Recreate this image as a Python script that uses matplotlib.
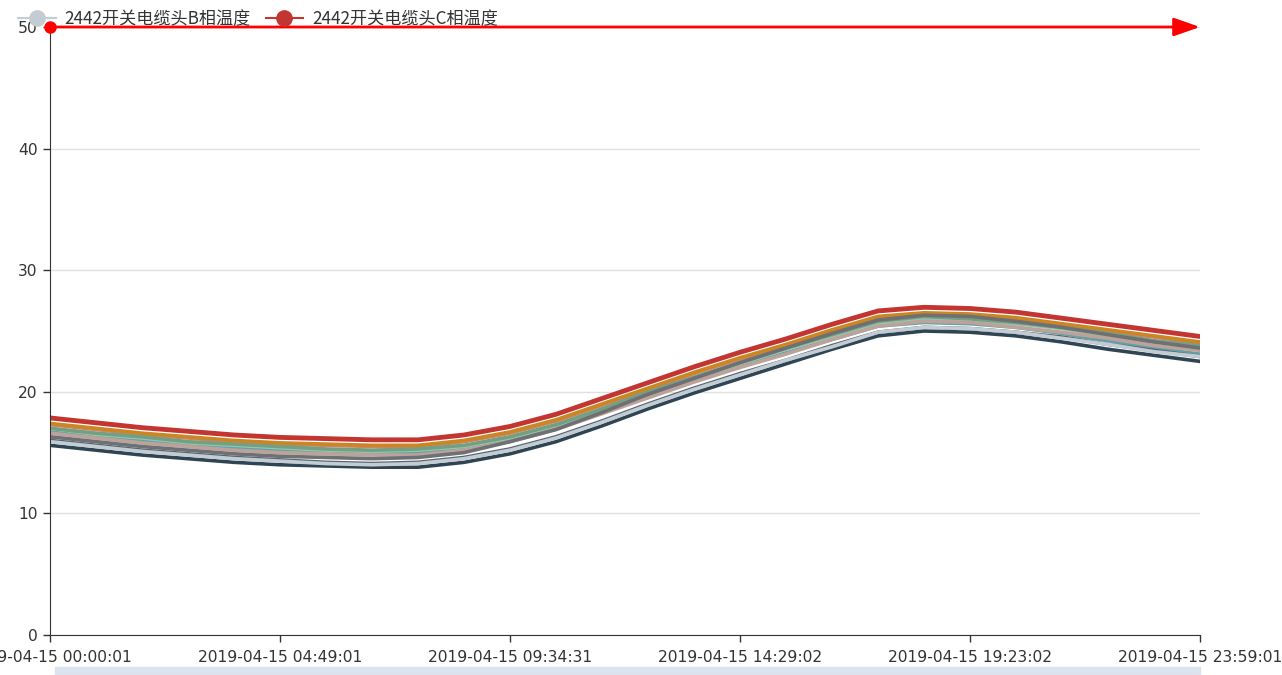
import numpy as np
import matplotlib
matplotlib.use('Agg')
import matplotlib.pyplot as plt
from matplotlib.lines import Line2D
from matplotlib.patches import Rectangle, FancyArrowPatch

plt.rcParams['font.family'] = ['Noto Sans CJK SC', 'DejaVu Sans']

# x 轴类目标签（只显示这几个）
tick_labels = ['2019-04-15 00:00:01', '2019-04-15 04:49:01', '2019-04-15 09:34:31',
               '2019-04-15 14:29:02', '2019-04-15 19:23:02', '2019-04-15 23:59:01']

names = ['2442开关电缆头A相温度', '2442开关柜触头A相温度', '2442开关柜触头B相温度',
         '2442开关柜触头C相温度', '2442母线A相温度', '2442母线B相温度',
         '2442母线C相温度', '2442出线A相温度', '2442出线B相温度',
         '2442出线C相温度', '2442开关电缆头B相温度', '2442开关电缆头C相温度']

colors = ['#c23531', '#2f4554', '#61a0a8', '#d48265', '#91c7ae', '#749f83',
          '#ca8622', '#bda29a', '#6e7074', '#546570', '#c4ccd3', '#c23531']

# 每条曲线的温度值（从图上读取，26 个采样点）
s0 = [17.8, 17.4, 17.0, 16.7, 16.4, 16.2, 16.1, 16.0, 16.0, 16.4, 17.1, 18.1, 19.4,
      20.7, 22.0, 23.2, 24.3, 25.5, 26.6, 26.9, 26.8, 26.5, 26.0, 25.5, 25.0, 24.5]
s1 = [15.6, 15.2, 14.8, 14.5, 14.2, 14.0, 13.9, 13.8, 13.8, 14.2, 14.9, 15.9, 17.2,
      18.6, 19.9, 21.1, 22.3, 23.5, 24.6, 25.0, 24.9, 24.6, 24.1, 23.5, 23.0, 22.5]
s2 = [16.7, 16.3, 16.0, 15.6, 15.4, 15.2, 15.0, 14.9, 15.0, 15.3, 16.0, 17.0, 18.3,
      19.6, 20.9, 22.1, 23.2, 24.3, 25.4, 25.7, 25.6, 25.3, 24.8, 24.2, 23.6, 23.1]
s3 = [17.3, 16.9, 16.5, 16.2, 15.9, 15.7, 15.6, 15.5, 15.5, 15.9, 16.6, 17.6, 18.9,
      20.2, 21.5, 22.7, 23.8, 25.0, 26.1, 26.4, 26.3, 26.0, 25.5, 25.0, 24.5, 24.0]
s4 = [17.0, 16.5, 16.2, 15.8, 15.6, 15.4, 15.2, 15.1, 15.2, 15.5, 16.2, 17.2, 18.5,
      19.9, 21.1, 22.3, 23.5, 24.6, 25.7, 26.0, 25.9, 25.6, 25.2, 24.6, 24.1, 23.7]
s5 = [17.0, 16.6, 16.3, 15.9, 15.7, 15.5, 15.3, 15.2, 15.3, 15.6, 16.3, 17.3, 18.6,
      20.0, 21.2, 22.4, 23.6, 24.7, 25.8, 26.2, 26.0, 25.7, 25.3, 24.8, 24.2, 23.8]
s6 = [17.4, 17.0, 16.6, 16.3, 16.0, 15.8, 15.7, 15.6, 15.6, 16.0, 16.7, 17.7, 19.0,
      20.3, 21.6, 22.8, 23.9, 25.1, 26.2, 26.5, 26.4, 26.1, 25.6, 25.1, 24.6, 24.1]
s7 = [16.6, 16.2, 15.8, 15.5, 15.2, 15.0, 14.9, 14.8, 14.8, 15.2, 15.9, 16.9, 18.2,
      19.5, 20.8, 22.0, 23.1, 24.3, 25.4, 25.8, 25.7, 25.3, 24.9, 24.4, 23.8, 23.4]
s8 = [16.3, 15.9, 15.5, 15.2, 14.9, 14.7, 14.6, 14.5, 14.6, 15.0, 15.9, 16.9, 18.3,
      19.8, 21.1, 22.4, 23.6, 24.8, 25.9, 26.3, 26.2, 25.8, 25.3, 24.7, 24.1, 23.6]
s9 = [16.0, 15.6, 15.2, 14.9, 14.6, 14.4, 14.2, 14.1, 14.2, 14.6, 15.3, 16.3, 17.6,
      19.0, 20.3, 21.5, 22.6, 23.8, 24.9, 25.3, 25.2, 24.9, 24.5, 23.9, 23.4, 22.9]
s10 = [15.9, 15.5, 15.1, 14.8, 14.5, 14.3, 14.1, 14.0, 14.1, 14.5, 15.2, 16.2, 17.5,
       18.9, 20.2, 21.4, 22.6, 23.7, 24.9, 25.3, 25.2, 24.9, 24.4, 23.9, 23.3, 22.9]
s11 = [17.9, 17.5, 17.1, 16.8, 16.5, 16.3, 16.2, 16.1, 16.1, 16.5, 17.2, 18.2, 19.5,
       20.8, 22.1, 23.3, 24.4, 25.6, 26.7, 27.0, 26.9, 26.6, 26.1, 25.6, 25.1, 24.6]

series = [s0, s1, s2, s3, s4, s5, s6, s7, s8, s9, s10, s11]

fig = plt.figure(figsize=(12.82, 6.75), dpi=100)
ax = fig.add_axes([50 / 1282, 40 / 675, 1150 / 1282, 608 / 675])

x = np.arange(len(s0))
for i, s in enumerate(series):
    ax.plot(x, s, color=colors[i], lw=2.6, solid_joinstyle='round')

ax.set_xlim(0, len(s0) - 1)
ax.set_ylim(0, 50)
ax.set_yticks([0, 10, 20, 30, 40, 50])
ax.set_xticks(np.linspace(0, len(s0) - 1, len(tick_labels)))
ax.set_xticklabels(tick_labels)
ax.grid(axis='y', color='#e0e0e0', lw=1)
ax.set_axisbelow(True)
for sp in ['top', 'right']:
    ax.spines[sp].set_visible(False)
for sp in ['left', 'bottom']:
    ax.spines[sp].set_color('#333333')
ax.tick_params(colors='#333333', labelcolor='#333333', labelsize=11.2, length=5, width=1)
ax.tick_params(axis='x', pad=6)
ax.tick_params(axis='y', pad=4)
for lab in ax.get_xticklabels():
    lab.set_family('DejaVu Sans')
for lab in ax.get_yticklabels():
    lab.set_family('DejaVu Sans')

# 顶部红色箭头
arr = FancyArrowPatch((0, 50), (len(s0) - 1, 50), arrowstyle='-|>,head_length=1.0,head_width=0.35',
                      mutation_scale=16, color='red', lw=2, clip_on=False, shrinkA=0, shrinkB=0)
ax.add_patch(arr)
ax.plot([0], [50], 'o', color='red', ms=8, clip_on=False, zorder=10)

# 图例（只露出最后两项）
handles = [Line2D([], [], color=colors[10], lw=1.5, marker='o', ms=11),
           Line2D([], [], color=colors[11], lw=1.5, marker='o', ms=11)]
fig.legend(handles, [names[10], names[11]], loc='center left', bbox_to_anchor=(0.002, 0.972),
           ncol=2, frameon=False, fontsize=12.3, handlelength=2.2, columnspacing=0.9,
           handletextpad=0.5, labelcolor='#333333')

# 底部数据缩放条
fig.patches.append(Rectangle((55 / 1282, 0), 1145 / 1282, 8 / 675, transform=fig.transFigure,
                             color='#dde3ee', zorder=0))

fig.savefig('out.png', dpi=100)
